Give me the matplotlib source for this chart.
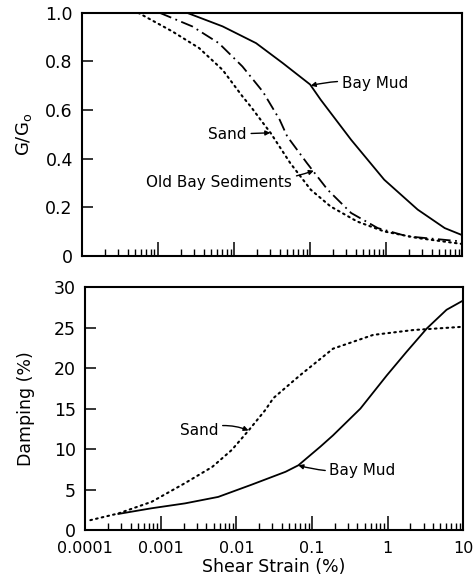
import matplotlib
matplotlib.use("Agg")
import matplotlib.pyplot as plt
from matplotlib.ticker import LogLocator, NullFormatter, FixedLocator

# Modulus reduction G/Go against shear strain (%)
mud_g_strain = [0.0024, 0.00708, 0.0195, 0.0437, 0.1, 0.138, 0.347, 0.944, 2.6, 5.89, 9.8]
mud_g = [1.0, 0.944, 0.875, 0.793, 0.705, 0.642, 0.477, 0.313, 0.19, 0.114, 0.086]

obs_g_strain = [0.00105, 0.00282, 0.00631, 0.0129, 0.024, 0.0398, 0.0501, 0.0912,
                0.17, 0.347, 0.776, 1.9, 9.8]
obs_g = [1.0, 0.944, 0.875, 0.779, 0.675, 0.56, 0.491, 0.381,
         0.272, 0.176, 0.114, 0.08, 0.059]

sand_g_strain = [0.00055, 0.00155, 0.00347, 0.00708, 0.0129, 0.0166, 0.024, 0.0302,
                 0.055, 0.102, 0.186, 0.417, 0.944, 2.6, 9.8]
sand_g = [1.0, 0.923, 0.855, 0.765, 0.656, 0.614, 0.547, 0.506,
          0.381, 0.272, 0.203, 0.141, 0.10, 0.073, 0.049]

# Damping ratio (%) against shear strain (%)
sand_d_strain = [0.000117, 0.000275, 0.000759, 0.00209, 0.00479, 0.0087, 0.0145,
                 0.024, 0.0309, 0.0692, 0.19, 0.646, 2.19, 9.8]
sand_d = [1.23, 2.06, 3.5, 5.8, 7.8, 9.9, 12.3, 14.8, 16.3, 19.1, 22.4, 24.1, 24.7, 25.1]

mud_d_strain = [0.000275, 0.000759, 0.00209, 0.00575, 0.0158, 0.0447, 0.066, 0.129,
                0.19, 0.437, 0.977, 1.78, 3.31, 6.03, 9.8]
mud_d = [2.0, 2.7, 3.3, 4.1, 5.6, 7.2, 8.0, 10.3, 11.7, 15.0, 19.1, 22.0, 24.9, 27.2, 28.3]

g_ticks = [0, 0.2, 0.4, 0.6, 0.8, 1.0]
g_ticklabels = ["0", "0.2", "0.4", "0.6", "0.8", "1.0"]
d_ticks = [0, 5, 10, 15, 20, 25, 30]
strain_ticks = [0.0001, 0.001, 0.01, 0.1, 1, 10]
strain_ticklabels = ["0.0001", "0.001", "0.01", "0.1", "1", "10"]

plt.rcParams["font.family"] = ["DejaVu Sans"]

fig = plt.figure(figsize=(4.76, 5.8), dpi=100)
ax1 = fig.add_axes([0.172, 0.559, 0.799, 0.419])
ax2 = fig.add_axes([0.179, 0.086, 0.794, 0.419])

lw = 1.3
dotted = (0, (0.8, 2.0))
dashdot = (0, (7, 2.5, 1, 2.5))

ax1.plot(mud_g_strain, mud_g, color="black", lw=lw, ls="-")
ax1.plot(obs_g_strain, obs_g, color="black", lw=lw, ls=dashdot)
ax1.plot(sand_g_strain, sand_g, color="black", lw=1.5, ls=dotted, dash_capstyle="round")

ax2.plot(sand_d_strain, sand_d, color="black", lw=1.5, ls=dotted, dash_capstyle="round")
ax2.plot(mud_d_strain, mud_d, color="black", lw=lw, ls="-")

for ax in (ax1, ax2):
    ax.set_xscale("log")
    ax.set_xlim(0.0001, 10)
    for s in ax.spines.values():
        s.set_linewidth(1.5)
    ax.xaxis.set_major_locator(FixedLocator(strain_ticks))
    ax.xaxis.set_minor_locator(LogLocator(base=10, subs=range(2, 10), numticks=20))
    ax.xaxis.set_minor_formatter(NullFormatter())
    ax.tick_params(axis="x", which="major", direction="in", length=10, width=1.1,
                   top=False, pad=8)
    ax.tick_params(axis="x", which="minor", direction="in", length=5, width=1.0, top=False)
    ax.tick_params(axis="y", which="major", direction="in", length=8, width=1.1,
                   right=False, pad=6.5, labelsize=12.5)

ax1.set_ylim(0, 1.0)
ax1.set_yticks(g_ticks)
ax1.set_yticklabels(g_ticklabels)
ax1.set_xticklabels([])
ax1.set_ylabel("G/G$_\\mathregular{o}$", fontsize=13, labelpad=8)

ax2.set_ylim(0, 30)
ax2.set_yticks(d_ticks)
ax2.set_xticks(strain_ticks)
ax2.set_xticklabels(strain_ticklabels, fontsize=11.5)
ax2.set_ylabel("Damping (%)", fontsize=12.5, labelpad=14)
ax2.set_xlabel("Shear Strain (%)", fontsize=12.5, labelpad=1)

arrow = dict(arrowstyle="-|>", color="black", lw=1.0, mutation_scale=7,
             shrinkA=1, shrinkB=0)

ax1.annotate("Bay Mud", xy=(0.102, 0.70), xytext=(0.26, 0.71),
             fontsize=11, va="center", ha="left",
             arrowprops=dict(arrow, connectionstyle="arc3,rad=0.1"))
ax1.annotate("Sand", xy=(0.030, 0.506), xytext=(0.0148, 0.50),
             fontsize=11, va="center", ha="right",
             arrowprops=dict(arrow, connectionstyle="arc3,rad=0"))
ax1.annotate("Old Bay Sediments", xy=(0.112, 0.35), xytext=(0.0585, 0.30),
             fontsize=11, va="center", ha="right",
             arrowprops=dict(arrow, connectionstyle="arc3,rad=0.1"))

ax2.annotate("Sand", xy=(0.0145, 12.3), xytext=(0.0058, 12.3),
             fontsize=11, va="center", ha="right",
             arrowprops=dict(arrow, connectionstyle="arc3,rad=-0.2"))
ax2.annotate("Bay Mud", xy=(0.066, 8.0), xytext=(0.17, 7.4),
             fontsize=11, va="center", ha="left",
             arrowprops=dict(arrow, connectionstyle="arc3,rad=-0.1"))

fig.savefig("out.png", dpi=100, facecolor="white")
